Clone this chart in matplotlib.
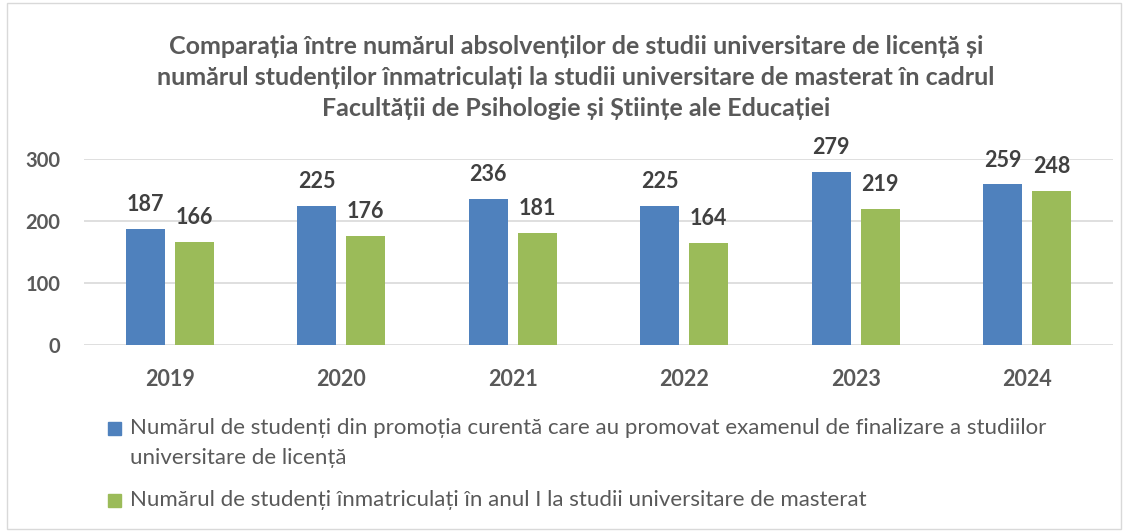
import matplotlib
matplotlib.use("Agg")
import matplotlib.pyplot as plt
from matplotlib.patches import Rectangle
import numpy as np

# --- date ---
ani = ['2019', '2020', '2021', '2022', '2023', '2024']
absolventi_licenta = [187, 225, 236, 225, 279, 259]
inmatriculati_master = [166, 176, 181, 164, 219, 248]

titlu = [
    "Comparația între numărul absolvenților de studii universitare de licență și",
    "numărul studenților înmatriculați la studii universitare de masterat în cadrul",
    "Facultății de Psihologie și Științe ale Educației",
]
leg1 = ["Numărul de studenți din promoția curentă care au promovat examenul de finalizare a studiilor",
        "universitare de licență"]
leg2 = "Numărul de studenți înmatriculați în anul I la studii universitare de masterat"

albastru = '#4F81BD'
verde = '#9BBB59'
gri_text = '#595959'

plt.rcParams['font.family'] = ['Lato', 'DejaVu Sans']

fig = plt.figure(figsize=(11.29, 5.31), dpi=100)
W, H = 1129, 531

# chenar exterior
fig.add_artist(Rectangle((7 / W, 2 / H), 1114 / W, 526 / H, transform=fig.transFigure,
                         fill=False, edgecolor='#D9D9D9', linewidth=1))

ax = fig.add_axes([84 / W, 1 - 345 / H, (1113 - 84) / W, (345 - 159) / H])

x = np.arange(len(ani))
lat = 0.228
dx = 0.143
b1 = ax.bar(x - dx, absolventi_licenta, lat, color=albastru, zorder=3)
b2 = ax.bar(x + dx, inmatriculati_master, lat, color=verde, zorder=3)

for bare in (b1, b2):
    for b in bare:
        ax.annotate(f"{int(b.get_height())}", (b.get_x() + b.get_width() / 2, b.get_height()),
                    xytext=(0, 10), textcoords='offset points', ha='center', va='bottom',
                    fontsize=15.5, fontweight='bold', color='#404040', annotation_clip=False)

ax.set_xlim(-0.5, len(ani) - 0.5)
ax.set_ylim(0, 300)
ax.set_yticks([0, 100, 200, 300])
ax.set_xticks(x)
ax.set_xticklabels(ani)
ax.grid(axis='y', color='#D9D9D9', linewidth=1.2, zorder=0)
for s in ax.spines.values():
    s.set_visible(False)
ax.tick_params(axis='both', length=0, labelcolor=gri_text)
ax.tick_params(axis='y', pad=17, labelsize=14.5)
ax.tick_params(axis='x', pad=17, labelsize=15.5)
for t in ax.get_xticklabels() + ax.get_yticklabels():
    t.set_fontweight('bold')

# titlu
for i, linie in enumerate(titlu):
    fig.text(576 / W, 1 - (47 + 30.5 * i) / H, linie, ha='center', va='center',
             fontsize=18, fontweight='bold', color=gri_text)

# legenda
fig.add_artist(Rectangle((108 / W, 1 - 435 / H), 13 / W, 13 / H, transform=fig.transFigure,
                         color=albastru))
fig.text(130 / W, 1 - 428 / H, leg1[0], ha='left', va='center', fontsize=16, color=gri_text)
fig.text(130 / W, 1 - 458 / H, leg1[1], ha='left', va='center', fontsize=16, color=gri_text)
fig.add_artist(Rectangle((108 / W, 1 - 507 / H), 13 / W, 13 / H, transform=fig.transFigure,
                         color=verde))
fig.text(130 / W, 1 - 500 / H, leg2, ha='left', va='center', fontsize=16, color=gri_text)

fig.savefig('out.png', dpi=100)
